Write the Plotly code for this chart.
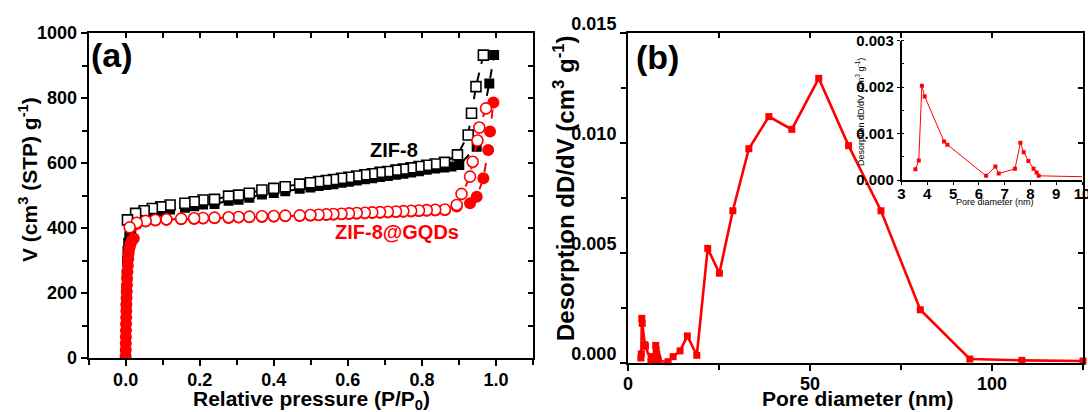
import plotly.graph_objects as go

# ---------------- Panel (a): N2 isotherms ----------------
zif_ads_p = [0.0002, 0.0005, 0.001, 0.0015, 0.002, 0.003, 0.004, 0.005, 0.007, 0.010, 0.015,
             0.027, 0.050, 0.072, 0.095, 0.120, 0.160, 0.185, 0.209, 0.240, 0.278, 0.305, 0.334,
             0.368, 0.400, 0.431, 0.470, 0.499, 0.521, 0.542, 0.561, 0.583, 0.603, 0.624, 0.646,
             0.666, 0.687, 0.708, 0.730, 0.750, 0.771, 0.792, 0.813, 0.836, 0.861, 0.880, 0.901,
             0.948, 0.982, 0.995]
zif_ads_v = [20, 60, 110, 160, 210, 260, 300, 330, 355, 375, 395,
             430, 439, 446, 451, 457, 462, 467, 472, 474, 484, 487, 493,
             503, 508, 513, 521, 525, 529, 532, 535, 539, 542, 546, 550,
             553, 557, 560, 564, 567, 571, 575, 579, 583, 586, 589, 594,
             650, 845, 932]

zif_des_p = [0.966, 0.946, 0.934, 0.925, 0.896, 0.861, 0.836, 0.813, 0.792, 0.771, 0.750,
             0.730, 0.708, 0.687, 0.666, 0.646, 0.624, 0.603, 0.583, 0.561, 0.542, 0.521,
             0.499, 0.470, 0.431, 0.400, 0.368, 0.334, 0.305, 0.278, 0.240, 0.209, 0.185,
             0.160, 0.120, 0.095, 0.072, 0.050, 0.027, 0.005]
zif_des_v = [932, 835, 753, 686, 625, 602, 597, 593, 589, 585, 581,
             578, 574, 571, 567, 564, 560, 556, 553, 549, 546, 543,
             539, 535, 527, 522, 517, 507, 501, 498, 488, 486, 481,
             476, 471, 465, 460, 453, 445, 425]

gqd_ads_p = [0.0001, 0.0003, 0.0005, 0.0007, 0.001, 0.0012, 0.0015, 0.0018, 0.002, 0.0025,
             0.003, 0.0035, 0.004, 0.005, 0.006, 0.007, 0.008, 0.010, 0.013, 0.016, 0.022,
             0.030, 0.054, 0.080, 0.110, 0.150, 0.185, 0.209, 0.240, 0.278, 0.305, 0.334,
             0.368, 0.400, 0.431, 0.470, 0.499, 0.521, 0.542, 0.561, 0.583, 0.603, 0.624,
             0.646, 0.666, 0.687, 0.708, 0.730, 0.750, 0.771, 0.792, 0.813, 0.836, 0.862,
             0.894, 0.930, 0.948, 0.966, 0.979, 0.984, 0.993]
gqd_ads_v = [5, 25, 45, 65, 85, 105, 125, 145, 165, 185,
             205, 225, 245, 265, 285, 305, 322, 338, 350, 360, 368,
             412, 420, 423, 425, 427, 428, 429, 430, 431, 432, 433,
             434, 435, 436, 437, 438, 439, 440, 441, 442, 443, 444,
             445, 446, 447, 448, 449, 450, 451, 452, 453, 454, 455,
             466, 476, 496, 553, 640, 697, 786]

gqd_des_p = [0.973, 0.955, 0.950, 0.937, 0.930, 0.907, 0.894, 0.862, 0.836, 0.813, 0.792,
             0.771, 0.750, 0.730, 0.708, 0.687, 0.666, 0.646, 0.624, 0.603, 0.583, 0.561,
             0.542, 0.521, 0.499, 0.470, 0.431, 0.400, 0.368, 0.334, 0.305, 0.278, 0.240,
             0.209, 0.185, 0.150, 0.110, 0.080, 0.054, 0.030, 0.011]
gqd_des_v = [768, 709, 669, 604, 558, 505, 471, 457, 456, 455, 454,
             453, 452, 451, 450, 449, 448, 447, 446, 445, 444, 443,
             442, 441, 440, 439, 438, 437, 436, 435, 434, 433, 432,
             431, 430, 429, 427, 425, 422, 416, 402]

# ---------------- Panel (b): pore size distribution ----------------
pore_d = [3.54, 3.67, 3.79, 3.90, 4.65, 4.78, 6.28, 6.64, 6.77, 7.40, 7.61, 7.74, 7.92,
          8.12, 8.24, 8.32, 11.0, 12.4, 14.3, 16.3, 18.9, 21.9, 25.1, 28.8, 33.2, 38.7,
          45.0, 52.4, 60.6, 69.5, 80.3, 93.9, 108.2, 125.0]
pore_dv = [0.00023, 0.00042, 0.00203, 0.00180, 0.00083, 0.00076, 0.00009, 0.00029, 0.00014,
           0.00024, 0.00080, 0.00060, 0.00041, 0.00024, 0.00016, 0.00009, 0.00006, 0.00029,
           0.00055, 0.00123, 0.00035, 0.00521, 0.00408, 0.00692, 0.00974, 0.01120, 0.01062,
           0.01294, 0.00988, 0.00692, 0.00242, 0.00018, 0.00012, 0.00009]

inset_ticks = [3, 4, 5, 6, 7, 8, 9, 10]

# ---------------- geometry helpers (pixels -> paper) ----------------
W, H = 1088, 412
def fx(p):
    return p / W
def fy(p):
    return 1 - p / H

FONT = "Liberation Sans"
tickfont = dict(family=FONT, size=18, color="black", weight="bold")
inset_tickfont = dict(family=FONT, size=15, color="black", weight="bold")

fig = go.Figure()

# panel (a) traces
fig.add_trace(go.Scatter(x=zif_ads_p, y=zif_ads_v, mode="lines+markers",
                         line=dict(color="black", width=2, dash="dash"),
                         marker=dict(symbol="square", size=10, color="black"),
                         xaxis="x", yaxis="y", showlegend=False))
fig.add_trace(go.Scatter(x=zif_des_p, y=zif_des_v, mode="lines+markers",
                         line=dict(color="black", width=2, dash="dash"),
                         marker=dict(symbol="square", size=10, color="white",
                                     line=dict(color="black", width=1.6)),
                         xaxis="x", yaxis="y", showlegend=False))
fig.add_trace(go.Scatter(x=gqd_ads_p, y=gqd_ads_v, mode="lines+markers",
                         line=dict(color="red", width=2, dash="dash"),
                         marker=dict(symbol="circle", size=12, color="red"),
                         xaxis="x", yaxis="y", showlegend=False))
fig.add_trace(go.Scatter(x=gqd_des_p, y=gqd_des_v, mode="lines+markers",
                         line=dict(color="red", width=2, dash="dash"),
                         marker=dict(symbol="circle", size=11, color="white",
                                     line=dict(color="red", width=1.6)),
                         xaxis="x", yaxis="y", showlegend=False))

# panel (b) main
fig.add_trace(go.Scatter(x=pore_d, y=pore_dv, mode="lines+markers",
                         line=dict(color="red", width=2.6),
                         marker=dict(symbol="square", size=7, color="red"),
                         xaxis="x2", yaxis="y2", showlegend=False, cliponaxis=False))
# inset
fig.add_trace(go.Scatter(x=pore_d, y=pore_dv, mode="lines+markers",
                         line=dict(color="red", width=1),
                         marker=dict(symbol="square", size=4, color="red"),
                         xaxis="x5", yaxis="y5", showlegend=False))

# dummy traces so the mirror-tick axes are drawn
for xa, ya in [("x3", "y"), ("x", "y3"), ("x4", "y2"), ("x2", "y4")]:
    fig.add_trace(go.Scatter(x=[None], y=[None], xaxis=xa, yaxis=ya,
                             showlegend=False, hoverinfo="skip"))

a_dom_x = [fx(88.6), fx(533)]
a_dom_y = [fy(358), fy(33)]
b_dom_x = [fx(628), fx(1083)]
b_dom_y = [fy(363), fy(33)]

axis_common = dict(showgrid=False, zeroline=False, showline=True, linecolor="black",
                   linewidth=2, ticks="outside", tickwidth=1.5, ticklen=6,
                   tickcolor="black", tickfont=tickfont, automargin=False)
mirror_common = dict(showticklabels=False, showgrid=False, zeroline=False, showline=False,
                     ticks="inside", ticklen=5, tickwidth=1.5, tickcolor="black",
                     automargin=False)

fig.update_layout(
    template="none",
    width=W, height=H,
    margin=dict(l=0, r=0, t=0, b=0, pad=0, autoexpand=False),
    paper_bgcolor="white", plot_bgcolor="rgba(0,0,0,0)",
    showlegend=False,
    xaxis=dict(axis_common, domain=a_dom_x, range=[-0.1, 1.1], tick0=0, dtick=0.2,
               tickformat=".1f", anchor="y", mirror=True, ticklabelstandoff=-2,
               minor=dict(dtick=0.1, tick0=0, ticks="outside", ticklen=5, tickwidth=1.5,
                          tickcolor="black")),
    yaxis=dict(axis_common, domain=a_dom_y, range=[0, 1000], tick0=0, dtick=200,
               anchor="x", mirror=True,
               minor=dict(dtick=100, ticks="outside", ticklen=5, tickwidth=1.5,
                          tickcolor="black")),
    xaxis3=dict(mirror_common, overlaying="x", side="top", anchor="y", range=[-0.1, 1.1],
                tick0=0, dtick=0.1),
    yaxis3=dict(mirror_common, overlaying="y", side="right", anchor="x", range=[0, 1000],
                tick0=0, dtick=100),
    xaxis2=dict(axis_common, domain=b_dom_x, range=[0, 125], tick0=0, dtick=50,
                anchor="y2", mirror=True, ticklabelstandoff=-3,
                minor=dict(dtick=25, ticks="outside", ticklen=5, tickwidth=1.5,
                           tickcolor="black")),
    yaxis2=dict(axis_common, domain=b_dom_y, range=[0, 0.015], tick0=0, dtick=0.005,
                tickformat=".3f", anchor="x2", mirror=True, ticklabelshift=-9,
                minor=dict(dtick=0.0025, ticks="outside", ticklen=5, tickwidth=1.5,
                           tickcolor="black")),
    xaxis4=dict(mirror_common, overlaying="x2", side="top", anchor="y2", range=[0, 125],
                tick0=0, dtick=25),
    yaxis4=dict(mirror_common, overlaying="y2", side="right", anchor="x2",
                range=[0, 0.015], tick0=0, dtick=0.0025),
    xaxis5=dict(domain=[fx(901.5), fx(1082)], range=[3, 10.0001], tickmode="array",
                tickvals=inset_ticks, ticktext=[str(t) for t in inset_ticks],
                anchor="y5", showgrid=False, zeroline=False, showline=True,
                linecolor="black", linewidth=1.5, ticks="outside", ticklen=3,
                tickwidth=1, tickcolor="black", tickfont=inset_tickfont, automargin=False,
                ticklabelstandoff=-4, ticklabeloverflow="allow"),
    yaxis5=dict(domain=[fy(180), fy(40.7)], range=[0, 0.003], tick0=0, dtick=0.001,
                tickformat=".3f", anchor="x5", showgrid=False, zeroline=False,
                showline=True, linecolor="black", linewidth=1.5, ticks="outside",
                ticklen=3, tickwidth=1, tickcolor="black", tickfont=inset_tickfont,
                automargin=False,
                minor=dict(dtick=0.0005, ticks="inside", ticklen=3, tickwidth=1,
                           tickcolor="black")),
)

bold = lambda s, c="black": dict(family=FONT, size=s, color=c, weight="bold")
reg = lambda s: dict(family=FONT, size=s, color="black")

ann = [
    dict(x=fx(311), y=fy(400), text="Relative pressure (P/P<sub>0</sub>)", font=bold(21)),
    dict(x=fx(28), y=fy(180), text="V (cm<sup>3</sup> (STP) g<sup>-1</sup>)", font=bold(21),
         textangle=-90),
    dict(x=fx(857), y=fy(398), text="Pore diameter (nm)", font=bold(21)),
    dict(x=fx(564), y=fy(188), text="Desorption dD/dV (cm<sup>3</sup> g<sup>-1</sup>)",
         font=bold(24), textangle=-90),
    dict(x=fx(112), y=fy(55), text="(a)", font=bold(34)),
    dict(x=fx(657), y=fy(57), text="(b)", font=bold(34)),
    dict(x=fx(394), y=fy(150), text="ZIF-8", font=bold(20)),
    dict(x=fx(397), y=fy(232), text="ZIF-8@GQDs", font=bold(20, "red")),
    dict(x=fx(995), y=fy(202), text="Pore diameter (nm)", font=reg(9)),
    dict(x=fx(860), y=fy(112), text="Desorption dD/dV (cm<sup>3</sup> g<sup>-1</sup>)",
         font=reg(9), textangle=-90),
]
for a in ann:
    a.update(xref="paper", yref="paper", showarrow=False, xanchor="center", yanchor="middle")
fig.update_layout(annotations=ann)

fig.write_html("out.html")
